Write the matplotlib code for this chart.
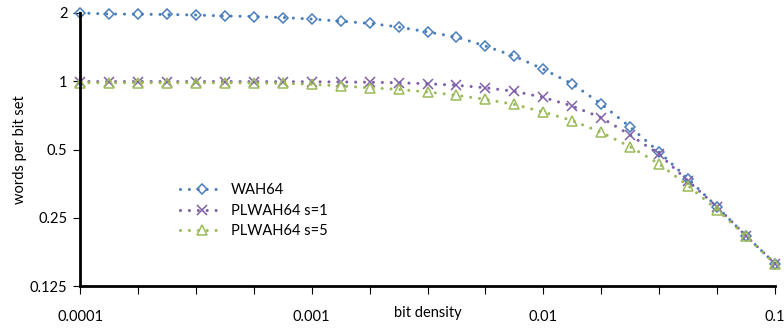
import numpy as np
import matplotlib
matplotlib.use("Agg")
import matplotlib.pyplot as plt
from matplotlib.ticker import FixedLocator, NullLocator, FixedFormatter, NullFormatter

# bit density: 8 points per decade from 1e-4 to 1e-1
density_exp = [-4 + k / 8 for k in range(25)]
density = [10 ** e for e in density_exp]

wah64 = [2.0, 1.98, 1.975, 1.97, 1.96, 1.94, 1.93, 1.91, 1.88, 1.84, 1.80, 1.735,
         1.65, 1.567, 1.43, 1.29, 1.13, 0.973, 0.794, 0.628, 0.487, 0.371, 0.279,
         0.208, 0.157]
plwah64_s1 = [0.997, 0.997, 0.997, 0.997, 0.997, 0.997, 0.996, 0.996, 0.995, 0.993,
              0.99, 0.985, 0.975, 0.96, 0.936, 0.903, 0.849, 0.777, 0.691, 0.579,
              0.476, 0.363, 0.279, 0.208, 0.157]
plwah64_s5 = [0.985, 0.985, 0.985, 0.985, 0.985, 0.984, 0.982, 0.979, 0.97, 0.953,
              0.936, 0.921, 0.897, 0.867, 0.832, 0.79, 0.732, 0.67, 0.595, 0.514,
              0.432, 0.346, 0.271, 0.207, 0.157]

series_names = ["WAH64", "PLWAH64 s=1", "PLWAH64 s=5"]
y_ticks = [0.125, 0.25, 0.5, 1, 2]
y_tick_labels = ["0.125", "0.25", "0.5", "1", "2"]
x_ticks = [0.0001, 0.001, 0.01, 0.1]
x_tick_labels = ["0.0001", "0.001", "0.01", "0.1"]

plt.rcParams['font.family'] = ['Lato', 'DejaVu Sans']

fig = plt.figure(figsize=(7.84, 3.28), dpi=100)
ax = fig.add_axes([80 / 784, 1 - 286 / 328, (775 - 80) / 784, (286 - 13) / 328])

dot = (0, (0.01, 2.9))
common = dict(linestyle=dot, linewidth=2.2, dash_capstyle='round',
              markerfacecolor='none', markeredgewidth=1.1, clip_on=False)
ax.plot(density, wah64, color='#4A7EBB', marker='D', markersize=5,
        label=series_names[0], **common)
ax.plot(density, plwah64_s1, color='#7F5FA8', marker='x', markersize=6.5,
        label=series_names[1], **common)
ax.plot(density, plwah64_s5, color='#9BBB59', marker='^', markersize=6.5,
        label=series_names[2], **common)

ax.set_xscale('log')
ax.set_yscale('log', base=2)
ax.set_xlim(0.0001, 0.1)
ax.set_ylim(0.125, 2)

ax.yaxis.set_major_locator(FixedLocator(y_ticks))
ax.yaxis.set_major_formatter(FixedFormatter(y_tick_labels))
ax.yaxis.set_minor_locator(NullLocator())

minor = [10 ** (-4 + k / 4) for k in range(13)]
ax.xaxis.set_major_locator(FixedLocator(x_ticks))
ax.xaxis.set_major_formatter(FixedFormatter(x_tick_labels))
ax.xaxis.set_minor_locator(FixedLocator(minor))
ax.xaxis.set_minor_formatter(NullFormatter())

for s in ['top', 'right']:
    ax.spines[s].set_visible(False)
for s in ['left', 'bottom']:
    ax.spines[s].set_linewidth(2)
    ax.spines[s].set_color('black')

ax.tick_params(axis='y', which='major', direction='out', length=5, width=0.8,
               labelsize=10.5, pad=4)
ax.tick_params(axis='x', which='both', direction='out', length=6, width=0.8,
               labelsize=10.5, pad=11)

ax.set_xlabel("bit density", fontsize=10.5, labelpad=-13)
ax.set_ylabel("words per bit set", fontsize=10.5, labelpad=2)

ax.legend(loc='upper left', bbox_to_anchor=(0.125, 0.425), frameon=False,
          fontsize=10.5, handlelength=3.0, handletextpad=0.5, labelspacing=0.45)

fig.savefig("out.png", dpi=100)
